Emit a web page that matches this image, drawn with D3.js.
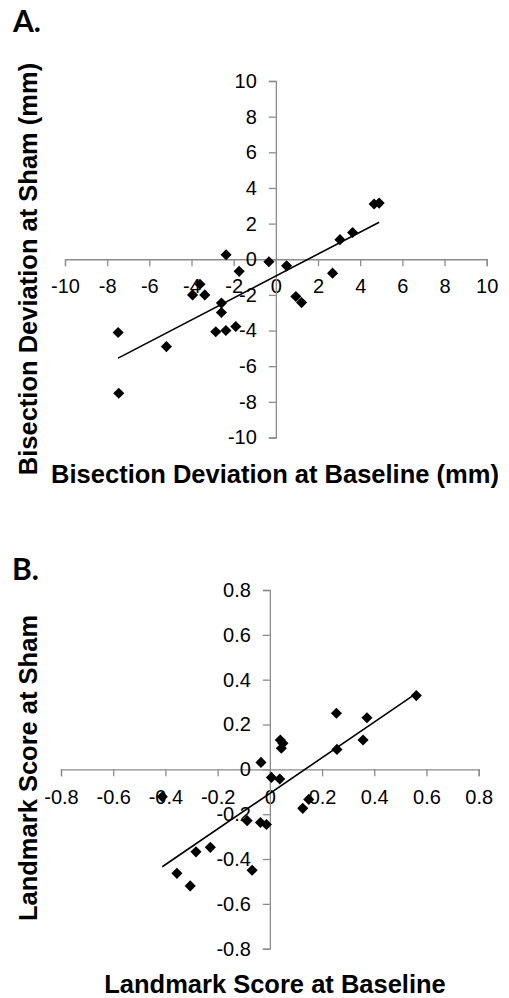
<!DOCTYPE html>
<html>
<head>
<meta charset="utf-8">
<script src="https://cdn.jsdelivr.net/npm/d3@7"></script>
<style>
  body { margin: 0; background: #fff; }
  svg { display: block; }
  .tick text { font-family: "Liberation Sans", Arial, sans-serif; font-size: 20px; fill: #000; }
  .title { font-family: "Liberation Sans", Arial, sans-serif; font-weight: bold; fill: #000; }
  .panel { font-family: Lato, "Open Sans", sans-serif; font-weight: bold; fill: #000; }
</style>
</head>
<body>
<svg id="chart" width="509" height="998"></svg>
<script>
// Panel A: bisection deviation (mm), baseline vs sham
const bisectBaseline = [4.9, 4.66, 3.64, 3.04, 2.69, 0.51, -0.33, -1.74, -2.36, -3.6, -3.95,
  -3.37, 0.95, 1.22, -2.58, -2.58, -2.85, -2.37, -1.9, -7.48, -5.19, -7.45];
const bisectSham = [3.15, 3.1, 1.5, 1.1, -0.78, -0.37, -0.14, -0.68, 0.25, -1.4, -2.0,
  -2.0, -2.09, -2.43, -2.46, -2.99, -4.07, -4.0, -3.77, -4.11, -4.9, -7.52];
const bisectTicks = [-10, -8, -6, -4, -2, 0, 2, 4, 6, 8, 10];
const bisectFit = [0.616, -0.94]; // slope, intercept

// Panel B: landmark score, baseline vs sham
const landmarkBaseline = [0.561, 0.255, 0.372, 0.357, 0.257, 0.04, 0.05, 0.044, -0.034, 0.006,
  0.038, -0.412, 0.126, 0.149, -0.087, -0.036, -0.013, -0.283, -0.228, -0.356, -0.305, -0.068];
const landmarkSham = [0.329, 0.25, 0.23, 0.131, 0.089, 0.131, 0.116, 0.094, 0.031, -0.036,
  -0.043, -0.122, -0.174, -0.134, -0.229, -0.237, -0.246, -0.368, -0.348, -0.464, -0.52, -0.45];
const landmarkTicks = [-0.8, -0.6, -0.4, -0.2, 0, 0.2, 0.4, 0.6, 0.8];
const landmarkFit = [0.795, -0.107];

const svg = d3.select("#chart");
const diamond = d3.symbol().type(d3.symbolSquare).size(62);

function panel(opts) {
  const x = d3.scaleLinear().domain(opts.domain).range(opts.xRange);
  const y = d3.scaleLinear().domain(opts.domain).range(opts.yRange);
  const g = svg.append("g");

  // axes cross at zero
  const xAxis = g.append("g")
    .attr("transform", "translate(0," + y(0) + ")")
    .call(d3.axisBottom(x).tickValues(opts.ticks).tickSize(7).tickPadding(13)
      .tickFormat(opts.fmt));
  const yAxis = g.append("g")
    .attr("transform", "translate(" + x(0) + ",0)")
    .call(d3.axisLeft(y).tickValues(opts.ticks).tickSize(7).tickPadding(12)
      .tickFormat(opts.fmt));
  [xAxis, yAxis].forEach(function (a) {
    a.select(".domain").attr("stroke", "#8c8c8c").attr("stroke-width", 1.3);
    a.selectAll(".tick line").attr("stroke", "#8c8c8c").attr("stroke-width", 1.3);
  });
  xAxis.selectAll(".tick text").attr("dy", "0.71em");

  // trend line over the data extent
  const ext = d3.extent(opts.xs);
  g.append("line")
    .attr("x1", x(ext[0])).attr("y1", y(opts.fit[0] * ext[0] + opts.fit[1]))
    .attr("x2", x(ext[1])).attr("y2", y(opts.fit[0] * ext[1] + opts.fit[1]))
    .attr("stroke", "#000").attr("stroke-width", 1.6);

  g.selectAll("path.pt")
    .data(d3.zip(opts.xs, opts.ys))
    .enter().append("path")
      .attr("class", "pt")
      .attr("d", diamond)
      .attr("transform", function (d) {
        return "translate(" + x(d[0]) + "," + y(d[1]) + ") rotate(45)";
      })
      .attr("fill", "#000");

  svg.append("text").attr("class", "panel")
    .attr("x", opts.label[1]).attr("y", opts.label[2])
    .style("font-size", "30px").text(opts.label[0]);
  svg.append("text").attr("class", "title")
    .attr("x", 275).attr("y", opts.xTitleY).attr("text-anchor", "middle")
    .style("font-size", opts.titleSize + "px").text(opts.xTitle);
  svg.append("text").attr("class", "title")
    .attr("transform", "translate(37," + opts.yTitleC + ") rotate(-90)")
    .attr("text-anchor", "middle")
    .style("font-size", opts.titleSize + "px").text(opts.yTitle);
}

panel({
  domain: [-10, 10], xRange: [65, 486.7], yRange: [437.5, 81],
  ticks: bisectTicks, fmt: function (d) { return String(d); },
  xs: bisectBaseline, ys: bisectSham, fit: bisectFit,
  label: ["A.", 13, 32],
  xTitle: "Bisection Deviation at Baseline (mm)", xTitleY: 483,
  yTitle: "Bisection Deviation at Sham (mm)", yTitleC: 269,
  titleSize: 25.5
});

panel({
  domain: [-0.8, 0.8], xRange: [61, 478.7], yRange: [948.7, 590],
  ticks: landmarkTicks, fmt: function (d) { return d === 0 ? "0" : d.toFixed(1); },
  xs: landmarkBaseline, ys: landmarkSham, fit: landmarkFit,
  label: ["B.", 12, 580],
  xTitle: "Landmark Score at Baseline", xTitleY: 993,
  yTitle: "Landmark Score at Sham", yTitleC: 768,
  titleSize: 25.5
});
</script>
</body>
</html>
